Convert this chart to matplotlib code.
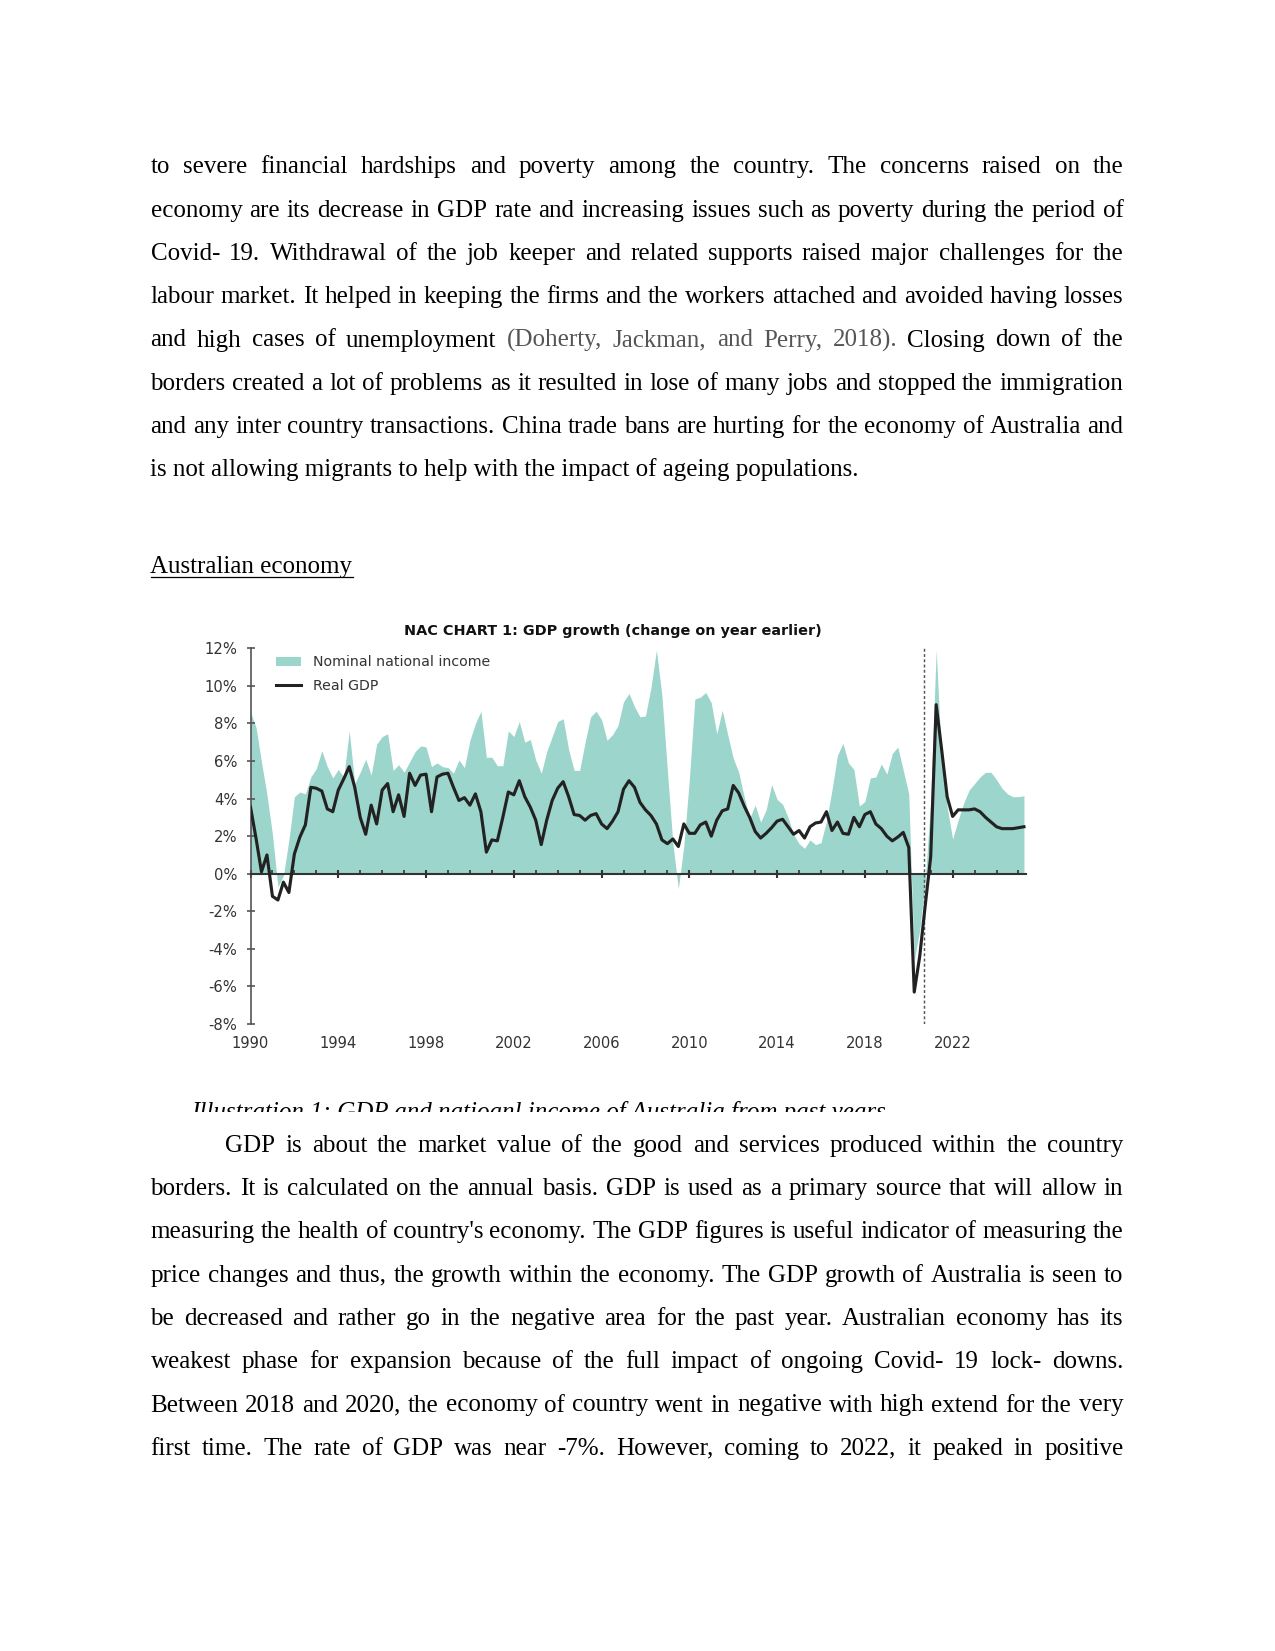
import numpy as np
import matplotlib
matplotlib.use('Agg')
import matplotlib.pyplot as plt
from matplotlib.ticker import MultipleLocator
from matplotlib.transforms import Bbox, TransformedBbox
from matplotlib.lines import Line2D
from matplotlib.patches import Patch

W, H, DPI = 1275, 1651, 150

# Quarterly series, year-on-year %, starting 1990 Q1
nominal_income = [
    8.6, 7.8, 5.95, 4.2, 2.1, -0.7, -0.1, 1.8, 4.1, 4.35,
    4.25, 5.15, 5.6, 6.55, 5.7, 5.1, 5.55, 5.15, 7.6, 4.8,
    5.4, 6.1, 5.25, 6.9, 7.3, 7.45, 5.5, 5.8, 5.4, 5.95,
    6.5, 6.8, 6.75, 5.7, 5.9, 5.7, 5.65, 5.35, 6.05, 5.65,
    7.1, 8.0, 8.65, 6.2, 6.2, 5.75, 5.75, 7.6, 7.3, 8.1,
    7.0, 7.15, 6.05, 5.35, 6.5, 7.3, 8.1, 8.25, 6.6, 5.5,
    5.5, 7.0, 8.35, 8.65, 8.2, 7.1, 7.4, 7.9, 9.15, 9.6,
    8.9, 8.35, 8.4, 9.9, 11.9, 9.5, 5.5, 1.6, -0.8, 1.5,
    5.0, 9.3, 9.4, 9.65, 9.1, 7.45, 8.7, 7.4, 6.15, 5.4,
    4.1, 2.95, 3.65, 2.75, 3.4, 4.75, 3.95, 3.7, 3.0, 2.1,
    1.6, 1.35, 1.8, 1.55, 1.65, 2.8, 4.45, 6.3, 6.95, 5.9,
    5.55, 3.6, 3.85, 5.1, 5.15, 5.85, 5.3, 6.4, 6.75, 5.5,
    4.25, -4.6, -3.0, -0.4, 3.9, 11.9, 6.0, 3.55, 1.85, 2.85,
    3.75, 4.45, 4.8, 5.15, 5.4, 5.4, 5.0, 4.55, 4.25, 4.1,
    4.1, 4.15,
]
real_gdp = [
    3.55, 1.9, 0.1, 1.0, -1.2, -1.4, -0.45, -1.0, 1.05, 1.95,
    2.6, 4.6, 4.55, 4.4, 3.45, 3.3, 4.45, 5.05, 5.7, 4.6,
    3.0, 2.1, 3.65, 2.65, 4.45, 4.8, 3.3, 4.2, 3.05, 5.35,
    4.7, 5.25, 5.3, 3.3, 5.15, 5.3, 5.35, 4.6, 3.9, 4.05,
    3.65, 4.25, 3.3, 1.15, 1.8, 1.75, 3.0, 4.35, 4.2, 4.95,
    4.1, 3.55, 2.85, 1.55, 2.85, 3.9, 4.55, 4.9, 4.1, 3.15,
    3.1, 2.85, 3.1, 3.2, 2.65, 2.4, 2.8, 3.3, 4.5, 4.95,
    4.6, 3.8, 3.4, 3.1, 2.65, 1.8, 1.6, 1.85, 1.45, 2.65,
    2.15, 2.15, 2.6, 2.75, 2.0, 2.85, 3.35, 3.45, 4.7, 4.3,
    3.6, 3.0, 2.25, 1.9, 2.15, 2.45, 2.8, 2.9, 2.5, 2.1,
    2.3, 1.9, 2.5, 2.7, 2.75, 3.3, 2.3, 2.75, 2.15, 2.1,
    3.0, 2.5, 3.15, 3.3, 2.65, 2.4, 2.0, 1.75, 1.95, 2.2,
    1.4, -6.3, -4.4, -1.7, 0.9, 9.0, 6.6, 4.1, 3.05, 3.4,
    3.4, 3.4, 3.45, 3.3, 3.0, 2.75, 2.5, 2.4, 2.4, 2.4,
    2.45, 2.5,
]
start_year = 1990
quarters = start_year + np.arange(len(real_gdp)) / 4
year_ticks = [1990, 1994, 1998, 2002, 2006, 2010, 2014, 2018, 2022]
pct_ticks = [-8, -6, -4, -2, 0, 2, 4, 6, 8, 10, 12]
forecast_start = 2020.7

chart_title = 'NAC CHART 1: GDP growth (change on year earlier)'
series_labels = ['Nominal national income', 'Real GDP']

para1 = [
    'to severe financial hardships and poverty among the country. The  concerns raised on the',
    'economy are its decrease in GDP rate and increasing issues such as poverty during the period of',
    'Covid- 19. Withdrawal of the job keeper and related supports raised major challenges for the',
    'labour market. It helped in keeping the firms and the workers attached and avoided having losses',
    'and high cases of unemployment (Doherty, Jackman, and Perry, 2018). Closing down of the',
    'borders created a lot of problems as it resulted in lose of many jobs and stopped the immigration',
    'and any inter country transactions. China trade bans are hurting for the economy of Australia and',
    'is not allowing migrants to help with the impact of ageing populations.',
]
citation = '(Doherty, Jackman, and Perry, 2018).'
heading = 'Australian economy'
caption = 'Illustration 1: GDP and natioanl income of Australia from past years'
para2 = [
    'GDP is about the market value of the good and services produced within the country',
    'borders. It is calculated on the annual basis. GDP is used as a primary source that will allow in',
    "measuring the health of country's economy. The GDP figures is useful indicator of measuring the",
    'price changes and thus, the growth within the economy. The GDP growth of Australia is seen to',
    'be decreased and rather go in the negative area for the past year. Australian economy has its',
    'weakest phase for expansion because of the full impact of ongoing Covid- 19 lock- downs.',
    'Between 2018 and 2020, the economy of country went in negative with high extend for the very',
    'first time. The rate of GDP was near -7%. However, coming to 2022, it peaked in positive',
]

fig = plt.figure(figsize=(W / DPI, H / DPI), dpi=DPI)
renderer = fig.canvas.get_renderer()


def fx(px):
    return px / W


def fy(py):
    return 1 - py / H


body = dict(family='Liberation Serif', size=12, color='black')
LEFT, RIGHT, LEAD = 150.5, 1123.4, 43.3


def width_of(s, **kw):
    t = fig.text(0, 0, s, **kw)
    w = t.get_window_extent(renderer).width
    t.remove()
    return w


def draw_line(line, x0, base, justify=True):
    words = line.split()
    grey = set()
    if citation in line:
        start = len(line[:line.index(citation)].split())
        grey = set(range(start, start + len(citation.split())))
    if not justify:
        fig.text(fx(x0), fy(base), line, va='baseline', **body)
        return
    widths = [width_of(w, **body) for w in words]
    gap = (RIGHT - x0 - sum(widths)) / (len(words) - 1)
    x = x0
    for i, (w, wd) in enumerate(zip(words, widths)):
        kw = dict(body)
        if i in grey:
            kw['color'] = '#555555'
        fig.text(fx(x), fy(base), w, va='baseline', **kw)
        x += wd + gap


for i, line in enumerate(para1):
    draw_line(line, LEFT, 173.3 + i * LEAD, justify=i < len(para1) - 1)

h = fig.text(fx(LEFT), fy(572.5), heading, va='baseline', **body)
hb = h.get_window_extent(renderer)
fig.add_artist(Line2D([hb.x0 / W, hb.x1 / W], [fy(576.5)] * 2,
                      transform=fig.transFigure, color='black', lw=0.6))

for i, line in enumerate(para2):
    draw_line(line, 225.3 if i == 0 else LEFT, 1151.7 + i * LEAD)

# caption is partly hidden under the page flow in the original
cap = fig.text(fx(191), fy(1119.5), caption, va='baseline', style='italic', **body)
cap.set_clip_box(TransformedBbox(Bbox([[0, fy(1112)], [1, 1]]), fig.transFigure))
cap.set_clip_on(True)

# ---- chart ----
TEAL = '#9cd5cb'
DARK = '#333333'
ax = fig.add_axes([250.5 / W, fy(1024), 775.2 / W, 375.7 / H])
ax.set_xlim(1990, 2025.33)
ax.set_ylim(-8, 12)
ax.fill_between(quarters, 0, nominal_income, color=TEAL, lw=0, zorder=1)
ax.plot(quarters, real_gdp, color='#222222', lw=1.5, zorder=3)
ax.axvline(forecast_start, color='#555555', lw=0.7, ls=(0, (2, 1.6)), zorder=2)

for s in ['top', 'right']:
    ax.spines[s].set_visible(False)
ax.spines['bottom'].set_position(('data', 0))
ax.spines['bottom'].set_color(DARK)
ax.spines['bottom'].set_linewidth(1.0)
ax.spines['left'].set_color('#555555')
ax.spines['left'].set_linewidth(0.8)

ax.set_xticks(year_ticks)
ax.xaxis.set_minor_locator(MultipleLocator(1))
ax.tick_params(axis='x', which='major', direction='inout', length=3.4, width=1.0,
               color=DARK, labelbottom=False)
ax.tick_params(axis='x', which='minor', direction='in', length=1.8, width=0.8, color=DARK)
ax.set_yticks(pct_ticks, [f'{v}%' for v in pct_ticks])
ax.tick_params(axis='y', direction='inout', length=4.3, width=0.8, color='#555555',
               pad=4.2, labelsize=7.1, labelcolor=DARK)

sec = ax.secondary_xaxis('bottom')
sec.set_xticks(year_ticks, [str(y) for y in year_ticks])
sec.tick_params(length=0, pad=5.8, labelsize=7.1, labelcolor=DARK)
sec.spines['bottom'].set_visible(False)

handles = [Patch(facecolor=TEAL, edgecolor='none'),
           Line2D([], [], color='#222222', lw=1.45)]
ax.legend(handles, series_labels, loc='upper left', bbox_to_anchor=(0.033, 0.982),
          frameon=False, fontsize=6.75, handlelength=1.75, handleheight=0.6,
          handletextpad=0.85, labelspacing=0.7, borderaxespad=0, borderpad=0,
          labelcolor=DARK)

fig.text(fx(613), fy(634.5), chart_title, ha='center', va='baseline',
         family='DejaVu Sans', weight='bold', size=6.9, color='#111111')

fig.savefig('out.png', dpi=DPI)
